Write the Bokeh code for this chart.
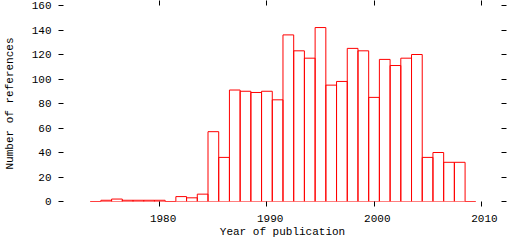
from bokeh.plotting import figure
from bokeh.models import Range1d, LinearAxis, FixedTicker, ColumnDataSource
from bokeh.embed import file_html
from bokeh.resources import INLINE

years = list(range(1974, 2010))
counts = [0, 1, 2, 1, 1, 1, 1, 0, 4, 3, 6, 57, 36, 91, 90, 89, 90, 83,
          136, 123, 117, 142, 95, 98, 125, 123, 85, 116, 111, 117, 120,
          36, 40, 32, 32, 0]
x_ticks = [1980, 1990, 2000, 2010]
y_ticks = [0, 20, 40, 60, 80, 100, 120, 140, 160]

src = ColumnDataSource(dict(
    left=[y - 0.5 for y in years],
    right=[y + 0.5 for y in years],
    top=counts,
    bottom=[0] * len(years),
))

FONT = "Liberation Mono"
FS = "11px"

p = figure(width=512, height=240, output_backend="svg", toolbar_location=None,
           x_range=Range1d(1971.01, 2011.9), y_range=Range1d(0, 160),
           min_border_left=63, min_border_right=11, min_border_top=5,
           min_border_bottom=39, x_axis_location=None, y_axis_location=None)
p.outline_line_color = None
p.grid.visible = False
p.background_fill_color = "white"
p.border_fill_color = "white"

p.quad(left="left", right="right", top="top", bottom="bottom", source=src,
       fill_color=None, line_color="#ff0000", line_width=1)

def style(ax, ticks, show_labels):
    ax.ticker = FixedTicker(ticks=ticks)
    ax.axis_line_color = None
    ax.major_tick_in = 0
    ax.major_tick_out = 5
    ax.major_tick_line_color = "black"
    ax.minor_tick_line_color = None
    ax.major_label_text_font = FONT
    ax.major_label_text_font_size = FS
    ax.major_label_text_color = "black"
    ax.axis_label_text_font = FONT
    ax.axis_label_text_font_size = FS
    ax.axis_label_text_font_style = "normal"
    ax.axis_label_text_color = "black"
    if not show_labels:
        ax.major_label_text_font_size = "0px"
        ax.major_label_text_color = None
        ax.major_label_standoff = 0
        ax.axis_label_standoff = 0

bottom = LinearAxis(axis_label="Year of publication")
style(bottom, x_ticks, True)
bottom.major_label_standoff = 6
bottom.axis_label_standoff = -2
bottom.major_label_overrides = {t: "\u00a0" + str(t) for t in x_ticks}
p.add_layout(bottom, "below")

top = LinearAxis()
style(top, x_ticks, False)
p.add_layout(top, "above")

left = LinearAxis(axis_label="Number of references")
style(left, y_ticks, True)
left.major_label_standoff = 7
left.axis_label_standoff = 13
p.add_layout(left, "left")

right = LinearAxis()
style(right, y_ticks, False)
p.add_layout(right, "right")

open("out.html", "w").write(file_html(p, INLINE))
